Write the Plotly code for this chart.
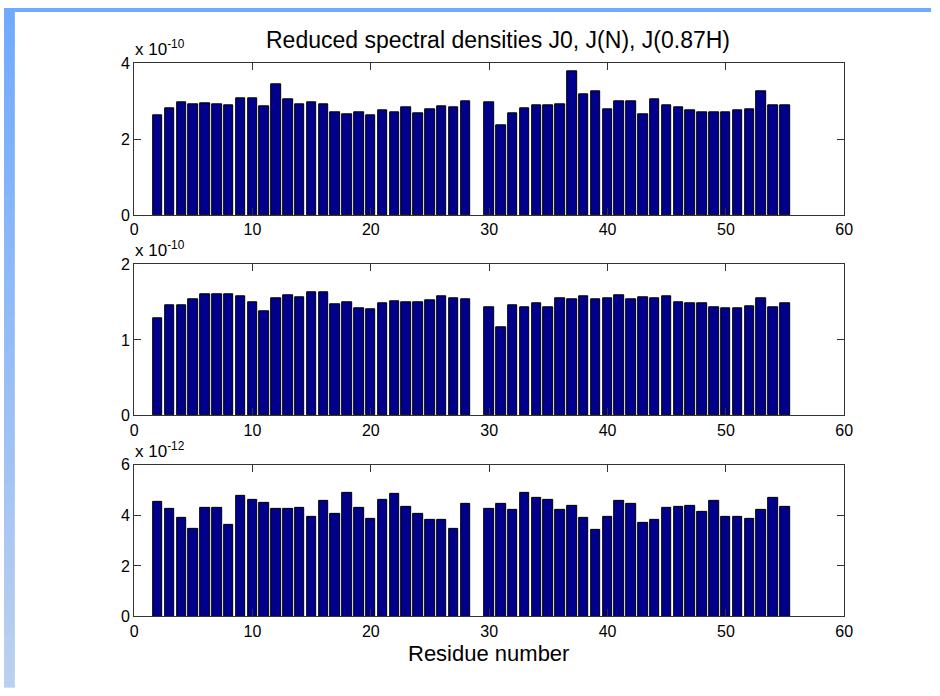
import plotly.graph_objects as go

residues = [r for r in range(2, 56) if r != 29]

j0 = [2.63, 2.81, 2.98, 2.93, 2.95, 2.91, 2.89, 3.07, 3.07, 2.87, 3.44, 3.06, 2.91, 2.98,
      2.91, 2.72, 2.66, 2.72, 2.64, 2.75, 2.72, 2.83, 2.69, 2.78, 2.87, 2.84, 3.01,
      2.98, 2.36, 2.69, 2.81, 2.89, 2.89, 2.93, 3.80, 3.19, 3.25, 2.78, 3.01, 3.01, 2.66,
      3.04, 2.90, 2.83, 2.75, 2.72, 2.72, 2.72, 2.77, 2.79, 3.25, 2.90, 2.90]
jn = [1.286, 1.458, 1.458, 1.535, 1.600, 1.609, 1.600, 1.574, 1.497, 1.385, 1.553, 1.591,
      1.566, 1.626, 1.626, 1.467, 1.497, 1.424, 1.406, 1.488, 1.505, 1.497, 1.497, 1.518,
      1.578, 1.544, 1.535,
      1.432, 1.166, 1.458, 1.432, 1.480, 1.432, 1.553, 1.540, 1.578, 1.535, 1.553, 1.591,
      1.535, 1.566, 1.553, 1.578, 1.497, 1.488, 1.480, 1.437, 1.424, 1.415, 1.445, 1.553,
      1.432, 1.488]
jh = [4.545, 4.262, 3.901, 3.463, 4.300, 4.313, 3.618, 4.764, 4.609, 4.480, 4.262, 4.262,
      4.313, 3.953, 4.584, 4.056, 4.880, 4.287, 3.863, 4.609, 4.841, 4.339, 4.043, 3.811,
      3.811, 3.463, 4.455,
      4.262, 4.455, 4.223, 4.905, 4.699, 4.609, 4.223, 4.365, 3.901, 3.412, 3.927, 4.584,
      4.455, 3.708, 3.824, 4.300, 4.339, 4.365, 4.159, 4.584, 3.953, 3.927, 3.863, 4.223,
      4.699, 4.339]

exponents = [-10, -10, -12]
series = [[v * 10.0 ** exponents[0] for v in j0],
          [v * 10.0 ** exponents[1] for v in jn],
          [v * 10.0 ** exponents[2] for v in jh]]
y_ticks = [[0, 2, 4], [0, 1, 2], [0, 2, 4, 6]]
x_ticks = [0, 10, 20, 30, 40, 50, 60]

title = "Reduced spectral densities J0, J(N), J(0.87H)"
xlabel = "Residue number"

W, H = 940, 696
def fx(px): return px / W
def fy(py): return 1 - py / H

# pixel boxes of each axes: (top, bottom)
boxes = [(56.7, 212.3), (262.7, 417.7), (468.3, 623.7)]
x_left, x_right = 132, 852

FAM = "Liberation Sans, Arial, Helvetica, sans-serif"
font = dict(family=FAM, size=16, color="black")
fig = go.Figure()
shapes = []
annotations = []
for i, (vals, exp, yt, (top, bot)) in enumerate(zip(series, exponents, y_ticks, boxes)):
    n = i + 1
    xa = "x" if n == 1 else f"x{n}"
    ya = "y" if n == 1 else f"y{n}"
    fig.add_trace(go.Bar(x=residues, y=vals, width=0.8, xaxis=xa, yaxis=ya,
                         marker=dict(color="#00008c", line=dict(color="black", width=1)),
                         showlegend=False))
    ax_common = dict(showgrid=False, zeroline=False, showline=True, linecolor="#333333",
                     linewidth=1, mirror="ticks", ticks="inside", ticklen=7,
                     tickcolor="#333333", tickfont=font)
    fig.update_layout(**{
        ("xaxis" if n == 1 else f"xaxis{n}"): dict(
            domain=[fx(x_left), fx(x_right)], range=[0, 60], tickvals=x_ticks,
            ticktext=[str(t) for t in x_ticks], anchor=ya, **ax_common),
        ("yaxis" if n == 1 else f"yaxis{n}"): dict(
            domain=[fy(bot), fy(top)], range=[0, yt[-1] * 10.0 ** exp],
            tickvals=[t * 10.0 ** exp for t in yt], ticktext=[str(t) for t in yt],
            anchor=xa, **ax_common),
    })
    annotations.append(dict(text=f"x 10<sup>{exp}</sup>", xref="paper", yref="paper",
                            x=fx(x_left - 1), y=fy(top - 2), xanchor="left", yanchor="bottom",
                            showarrow=False, font=dict(family=FAM, size=17, color="black")))

annotations.append(dict(text=title, xref="paper", yref="paper", x=fx(501), y=fy(33),
                        xanchor="center", yanchor="middle", showarrow=False,
                        font=dict(family=FAM, size=23, color="black")))
annotations.append(dict(text=xlabel, xref="paper", yref="paper", x=fx(491), y=fy(662),
                        xanchor="center", yanchor="middle", showarrow=False,
                        font=dict(family=FAM, size=22, color="black")))

# decorative blue frame (left strip gradient + top strip)
top_col = (112, 170, 255)
bot_col = (186, 208, 238)
steps = 40
for k in range(steps):
    t = k / (steps - 1)
    c = tuple(round(a + (b - a) * t) for a, b in zip(top_col, bot_col))
    shapes.append(dict(type="rect", xref="paper", yref="paper", x0=0, x1=fx(11),
                       y0=1 - (k + 1) / steps - 0.001, y1=1 - k / steps,
                       fillcolor=f"rgb{c}", line=dict(width=0), layer="below"))
shapes.append(dict(type="rect", xref="paper", yref="paper", x0=0, x1=1, y0=fy(4), y1=1,
                   fillcolor="rgb(112,170,255)", line=dict(width=0), layer="below"))

fig.update_layout(autosize=True, margin=dict(l=0, r=0, t=0, b=0),
                  paper_bgcolor="white", plot_bgcolor="white", bargap=0,
                  shapes=shapes, annotations=annotations, font=font)
fig.write_html("out.html",
               config={"displayModeBar": False, "responsive": True},
               default_width="100vw",
               default_height="100vh; position:fixed; top:0; left:0",
               post_script="document.body.style.margin='0';"
                           "document.documentElement.style.overflow='hidden';")
